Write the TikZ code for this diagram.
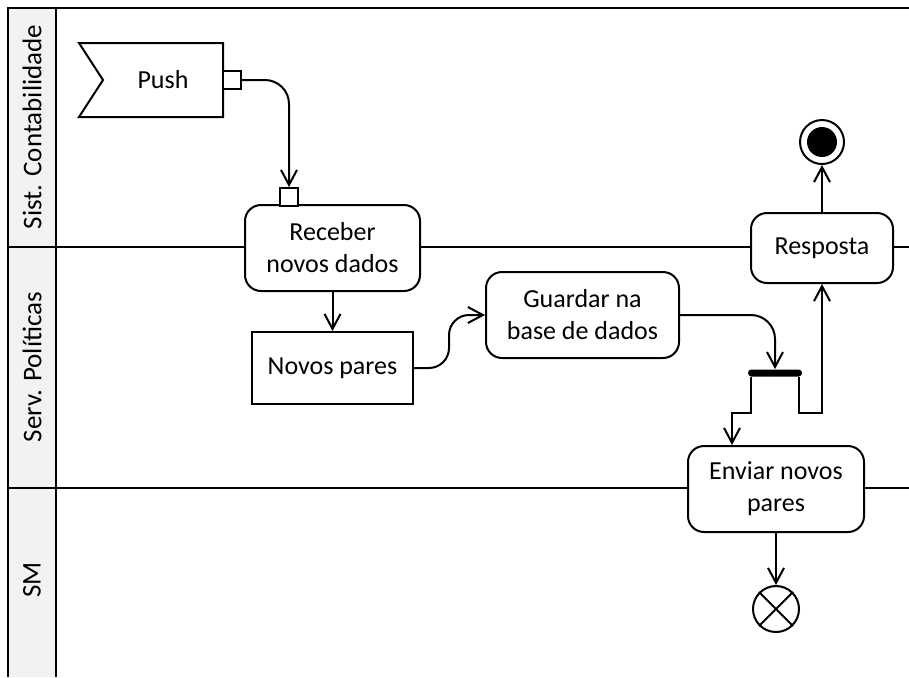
\documentclass[tikz,border=0pt]{standalone}
\usepackage{fontspec}
\setmainfont{Carlito}
\usetikzlibrary{arrows.meta}
\definecolor{lanegray}{HTML}{F2F2F2}
\tikzset{
  ln/.style={line width=1pt, draw=black},
  act/.style={ln, fill=white, rounded corners=8pt, align=center, inner sep=0pt,
    font=\fontsize{13}{16}\selectfont},
  obj/.style={ln, fill=white, align=center, inner sep=0pt, font=\fontsize{13}{16}\selectfont},
  pin/.style={ln, fill=white, minimum width=9pt, minimum height=9pt, inner sep=0pt},
  flow/.style={ln, -{Straight Barb[length=7.5pt,width=8pt,line width=1pt]}},
  lanelbl/.style={rotate=90, font=\fontsize{13.5}{16}\selectfont, inner sep=0pt},
}
\begin{document}
\begin{tikzpicture}[x=0.5pt,y=-0.5pt]
\useasboundingbox (0,0) rectangle (909,677);
% swimlanes
\fill[lanegray] (8,8) rectangle (56,677);
\draw[ln] (909,8) -- (8,8) -- (8,677);
\draw[ln] (56,8) -- (56,677);
\draw[ln] (8,247) -- (909,247);
\draw[ln] (8,488) -- (909,488);
\node[lanelbl] (l1) at (32,127) {Sist. Contabilidade};
\node[lanelbl] (l2) at (32,367) {Serv. Políticas};
\node[lanelbl] (l3) at (32,580) {SM};
% Push (accept event)
\draw[ln, fill=white] (79,43) -- (223,43) -- (223,117) -- (79,117) -- (103,80) -- cycle;
\node[font=\fontsize{13}{16}\selectfont, inner sep=0pt] (push) at (163,80) {Push};
\node[pin] (pushpin) at (232,80) {};
% activities
\node[act, minimum width=87.5pt, minimum height=43pt] (rec) at (332.5,248) {Receber\\novos dados};
\node[pin] (recpin) at (289,197) {};
\node[obj, minimum width=80.5pt, minimum height=36pt] (np) at (332.5,368) {Novos pares};
\node[act, minimum width=96.5pt, minimum height=43pt] (gd) at (582.5,315) {Guardar na\\base de dados};
\node[act, minimum width=71pt, minimum height=35pt] (resp) at (822,248) {Resposta};
\node[act, minimum width=88pt, minimum height=43pt] (env) at (776,489) {Enviar novos\\pares};
% fork
\node[fill=black, minimum width=27pt, minimum height=3.5pt, inner sep=0pt, rounded corners=1.7pt] (fork) at (775,373) {};
% final nodes
\node[ln, circle, fill=white, minimum size=22pt, inner sep=0pt] (final) at (822,142) {};
\node[circle, fill=black, minimum size=15pt, inner sep=0pt] (finaldot) at (final) {};
\node[ln, circle, fill=white, minimum size=23pt, inner sep=0pt] (ff) at (776,609) {};
\draw[ln] (ff.north east) -- (ff.south west) (ff.north west) -- (ff.south east);
% connectors
\coordinate (j1) at (732,413);
\coordinate (j2) at (822,413);
\coordinate (gk) at (775,315);
\coordinate (nk) at (449,368);
\draw[flow, rounded corners=12pt] (pushpin.east) -| (recpin.north);
\draw[flow] (rec.south -| np.north) -- (np.north);
\draw[flow, rounded corners=10pt] (np.east) -- (nk) -- (nk |- gd.west) -- (gd.west);
\draw[flow, rounded corners=12pt] (gd.east) -| (fork.north);
\draw[flow] ([xshift=1.5pt]fork.south west) |- (j1) -- (j1 |- env.north);
\draw[flow] ([xshift=-1.5pt]fork.south east) |- (j2) -- (resp.south);
\draw[flow] (resp.north) -- (final.south);
\draw[flow] (env.south) -- (ff.north);
\end{tikzpicture}
\end{document}
